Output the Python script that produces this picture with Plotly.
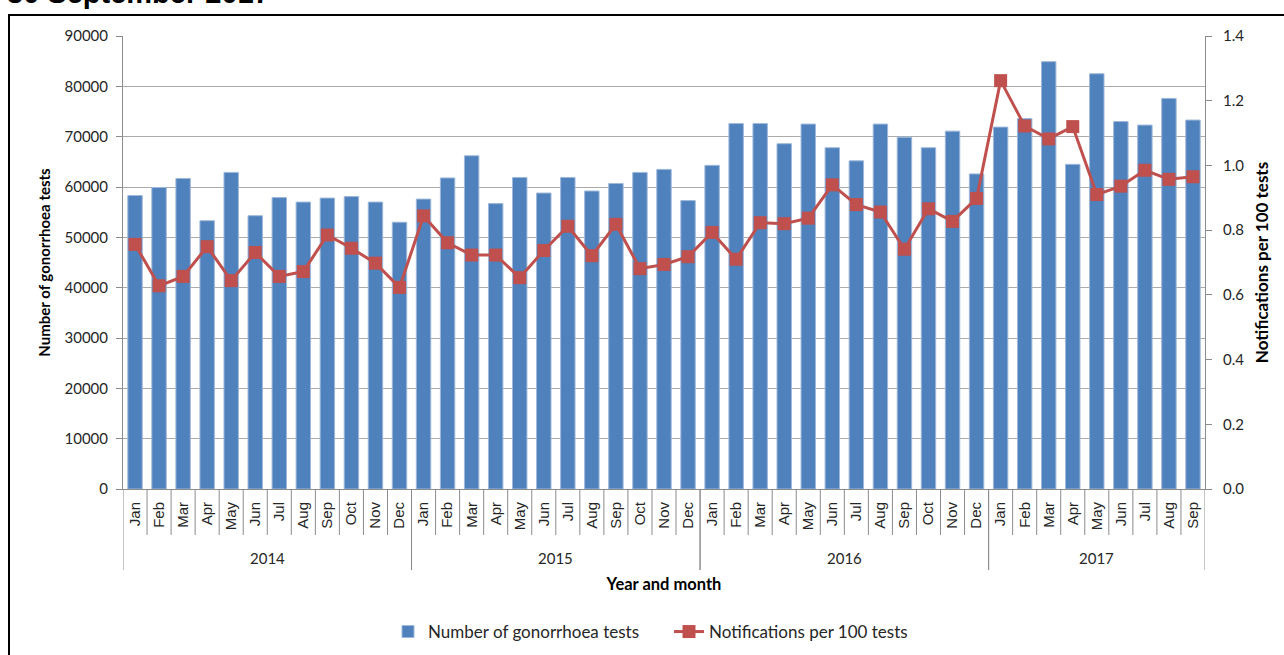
import plotly.graph_objects as go

# ---- data ----
month_names = ["Jan", "Feb", "Mar", "Apr", "May", "Jun", "Jul", "Aug", "Sep", "Oct", "Nov", "Dec"]
year_labels = ["2014", "2015", "2016", "2017"]
months_per_year = [12, 12, 12, 9]

tests_2014 = [58300, 59900, 61700, 53300, 62900, 54300, 57900, 57000, 57800, 58100, 57000, 53000]
tests_2015 = [57600, 61800, 66200, 56700, 61900, 58800, 61900, 59200, 60700, 62900, 63500, 57300]
tests_2016 = [64300, 72600, 72600, 68600, 72500, 67800, 65200, 72500, 69900, 67800, 71100, 62600]
tests_2017 = [71900, 73600, 84900, 64500, 82500, 73000, 72300, 77600, 73300]

rate_2014 = [0.756, 0.628, 0.657, 0.749, 0.644, 0.731, 0.657, 0.672, 0.785, 0.744, 0.698, 0.623]
rate_2015 = [0.844, 0.761, 0.723, 0.723, 0.653, 0.737, 0.812, 0.721, 0.818, 0.681, 0.694, 0.718]
rate_2016 = [0.793, 0.710, 0.823, 0.820, 0.837, 0.940, 0.879, 0.856, 0.741, 0.866, 0.827, 0.898]
rate_2017 = [1.262, 1.122, 1.082, 1.120, 0.910, 0.936, 0.985, 0.957, 0.965]

tests = tests_2014 + tests_2015 + tests_2016 + tests_2017
rates = rate_2014 + rate_2015 + rate_2016 + rate_2017

x_months = []
for n in months_per_year:
    x_months += month_names[:n]
x_pos = list(range(len(x_months)))

# ---- style ----
BLUE = "#4F81BD"
RED = "#C0504D"
GRID = "#ABABAB"
AXIS = "#8C8C8C"
TXT = "#262626"
CAL = "Lato, 'Open Sans', sans-serif"
ARI = "'Liberation Sans', Arial, sans-serif"

W, H = 1284, 655
L, R, T, B = 123, 79, 36, 166
pw, ph = W - L - R, H - T - B


def px_x(px):
    return (px - L) / pw


def px_y(py):
    return (H - B - py) / ph


fig = go.Figure()
fig.add_trace(go.Bar(
    x=x_pos, y=tests, name="Number of gonorrhoea tests",
    marker=dict(color=BLUE, line=dict(color="#9DB8DA", width=1)),
    yaxis="y", legendwidth=236,
))
fig.add_trace(go.Scatter(
    x=x_pos, y=rates, name="Notifications per 100 tests",
    mode="lines+markers",
    line=dict(color=RED, width=3),
    marker=dict(symbol="square", size=13, color=RED),
    yaxis="y2",
))

fig.update_layout(
    width=W, height=H,
    margin=dict(l=L, r=R, t=T, b=B, autoexpand=False),
    paper_bgcolor="white", plot_bgcolor="white",
    bargap=0.4,
    showlegend=True,
    legend=dict(
        orientation="h", x=px_x(388), xanchor="left", y=px_y(632), yanchor="middle",
        font=dict(family=CAL, size=17, color=TXT),
    ),
    xaxis=dict(
        type="linear", range=[-0.5, len(x_pos) - 0.5],
        tickmode="array", tickvals=x_pos, ticktext=x_months,
        tickangle=-90,
        tickfont=dict(family=ARI, size=15, color=TXT),
        ticks="", ticklabelstandoff=6,
        showline=True, linecolor=AXIS, linewidth=1,
        showgrid=False, zeroline=False,
        title=dict(text="<b>Year and month</b>", font=dict(family=CAL, size=16.5, color="black"), standoff=49),
    ),
    yaxis=dict(
        range=[0, 90000], dtick=10000, tickformat="d",
        showgrid=True, gridcolor=GRID, gridwidth=1,
        showline=True, linecolor=AXIS, linewidth=1,
        ticks="outside", ticklen=6, tickcolor=AXIS,
        tickfont=dict(family=CAL, size=15, color=TXT),
        ticklabelstandoff=5,
        zeroline=False,
        title=dict(text="<b>Number of gonorrhoea tests</b>", font=dict(family=CAL, size=15, color="black"), standoff=10),
    ),
    yaxis2=dict(
        range=[0, 1.4], dtick=0.2, tickformat=".1f",
        overlaying="y", side="right",
        showgrid=False,
        showline=True, linecolor=AXIS, linewidth=1,
        ticks="outside", ticklen=6, tickcolor=AXIS,
        tickfont=dict(family=CAL, size=15, color=TXT),
        ticklabelstandoff=8,
        zeroline=False,
        title=dict(text="<b>Notifications per 100 tests</b>", font=dict(family=CAL, size=17, color="black"), standoff=12),
    ),
)

# month boundary ticks, year dividers and year labels under the axis
shapes = []
annotations = []
start = 0
for yl, n in zip(year_labels, months_per_year):
    for k in range(n + 1):
        b = start + k - 0.5
        is_year_edge = (k == 0 or k == n)
        shapes.append(dict(
            type="line", xref="x", yref="paper", x0=b, x1=b,
            y0=0, y1=px_y(570 if is_year_edge else 535),
            line=dict(color=AXIS, width=1),
        ))
    annotations.append(dict(
        text=yl, xref="x", yref="paper", x=start + (n - 1) / 2, y=px_y(558),
        xanchor="center", yanchor="middle", showarrow=False,
        font=dict(family=CAL, size=15, color=TXT),
    ))
    start += n

# partially visible heading above the chart frame
annotations.append(dict(
    text="<b>30 September 2017</b>", xref="paper", yref="paper",
    x=px_x(5), y=px_y(11), xanchor="left", yanchor="bottom",
    showarrow=False, font=dict(family=ARI, size=29, color="black"),
))

# chart frame
shapes.append(dict(
    type="rect", xref="paper", yref="paper",
    x0=px_x(9), x1=px_x(1300), y0=px_y(680), y1=px_y(15),
    line=dict(color="black", width=2), fillcolor="rgba(0,0,0,0)", layer="below",
))

fig.update_layout(shapes=shapes, annotations=annotations)

fig.write_html("out.html")
